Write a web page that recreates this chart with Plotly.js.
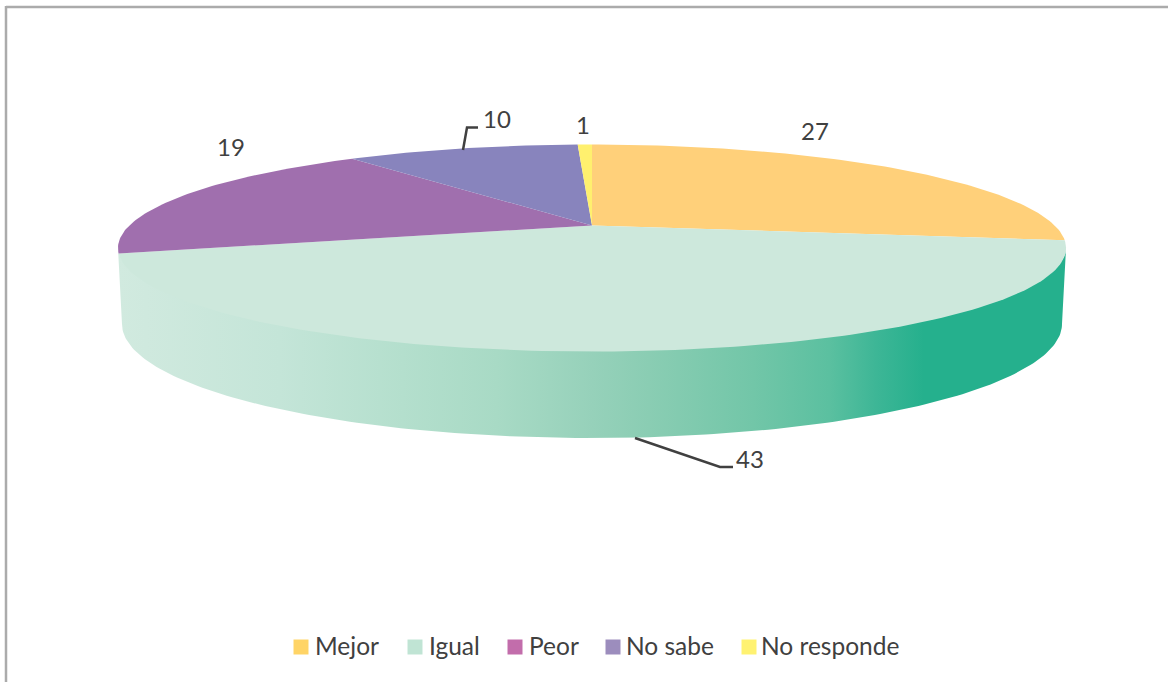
<!DOCTYPE html>
<html>
<head>
<meta charset="utf-8">
<script src="https://cdn.plot.ly/plotly-3.0.1.min.js"></script>
<style>html,body{margin:0;padding:0;background:#fff;overflow:hidden}#chart{width:1168px;height:682px}</style>
</head>
<body>
<div id="chart"></div>
<script>
// Data
const categories = ['Mejor', 'Igual', 'Peor', 'No sabe', 'No responde'];
const values = [27.3, 43.4, 18.9, 9.8, 0.6];
// Colours
const topColors = ['#ffd07a', '#cde8dc', '#a06fae', '#8884bd', '#fff06e'];
const legendColors = ['#ffd466', '#c0e4d4', '#c26dab', '#9c8dbd', '#fff271'];
const wallStops = [[0, '#d1eadf'], [0.03, '#cfe9de'], [0.17, '#c4e5d8'], [0.3, '#b4dfcd'], [0.4, '#a8dac5'], [0.5, '#96d1ba'], [0.56, '#8acdb3'], [0.67, '#72c6a8'], [0.75, '#5bc0a0'], [0.8, '#3db696'], [0.85, '#25b08d'], [1, '#25b08d']];
// Label positions in page pixels
const labelX = [815, 750, 231, 497, 583];
const labelY = [134, 462, 150, 122, 128];
// Legend positions in page pixels
const legendSwatchX = [301, 415, 515, 613, 749];
const legendTextX = [315, 429, 529, 626, 761];
const legendSwatchY = [647, 647, 647, 647, 647];
const legendTextY = [649, 649, 649, 649, 649];
// Leader lines
const leaderX = [[463, 467, 478], [635, 720, 733]];
const leaderY = [[150, 127.5, 127.5], [438, 467, 467]];

// 3-D pie projection
const apex = {x: 592, y: 225.5};
const persp = {b: 462.7, a: 98.6, k: 0.2174};
function project(deg) {
  const t = deg * Math.PI / 180, u = Math.sin(t), v = Math.cos(t), w = 1 + persp.k * v;
  return [apex.x + persp.b * u / w, apex.y - persp.a * v / w];
}
const traces = [];
// Side wall (upper edge tucked under the top surface)
const wallX = [], wallY = [];
for (let d = 0; d <= 180; d += 1) {
  const t = d * Math.PI / 180;
  wallX.push(592 + 474 * Math.cos(t)); wallY.push(248.5 + 90 * Math.sin(t));
}
for (let d = 180; d >= 0; d -= 1) {
  const t = d * Math.PI / 180;
  wallX.push(592 + 470 * Math.cos(t)); wallY.push(324 + 114 * Math.sin(t));
}
traces.push({x: wallX, y: wallY, mode: 'lines', fill: 'toself', line: {width: 0},
  fillgradient: {type: 'horizontal', colorscale: wallStops},
  hoverinfo: 'skip', showlegend: false});
// Top surface
const total = values.reduce((a, b) => a + b, 0);
let cum = 0;
values.forEach((val, i) => {
  const start = cum / total * 360, end = (cum + val) / total * 360;
  const xs = [apex.x], ys = [apex.y];
  const n = Math.max(2, Math.ceil(end - start));
  for (let j = 0; j <= n; j++) {
    const p = project(start + (end - start) * j / n);
    xs.push(p[0]); ys.push(p[1]);
  }
  xs.push(apex.x); ys.push(apex.y);
  traces.push({x: xs, y: ys, mode: 'lines', fill: 'toself', fillcolor: topColors[i],
    line: {width: 0}, name: categories[i], hoverinfo: 'name', showlegend: false});
  cum += val;
});
// Leader lines
leaderX.forEach((lx, i) => traces.push({x: lx, y: leaderY[i], mode: 'lines',
  line: {color: '#404040', width: 2.5}, hoverinfo: 'skip', showlegend: false}));
// Value labels
traces.push({x: labelX, y: labelY, mode: 'text', text: values.map(v => String(Math.round(v))),
  textposition: 'middle center', textfont: {family: 'Lato, Carlito, sans-serif', size: 24, color: '#404040'},
  hoverinfo: 'skip', showlegend: false});
// Legend swatches and names
traces.push({x: legendSwatchX, y: legendSwatchY, mode: 'markers',
  marker: {symbol: 'square', size: 15, color: legendColors, line: {width: 0}},
  hoverinfo: 'skip', showlegend: false});
traces.push({x: legendTextX, y: legendTextY, mode: 'text', text: categories,
  textposition: 'middle right', textfont: {family: 'Lato, Carlito, sans-serif', size: 24.5, color: '#404040'},
  hoverinfo: 'skip', showlegend: false});

const layout = {
  width: 1168, height: 682,
  margin: {l: 0, r: 0, t: 0, b: 0},
  paper_bgcolor: '#ffffff', plot_bgcolor: '#ffffff',
  xaxis: {range: [0, 1168], visible: false, fixedrange: true},
  yaxis: {range: [682, 0], visible: false, fixedrange: true},
  font: {family: 'Lato, Carlito, sans-serif', color: '#404040'},
  showlegend: false,
  shapes: [
    {type: 'line', xref: 'paper', yref: 'paper', x0: 6 / 1168, x1: 1, y0: 1 - 7 / 682, y1: 1 - 7 / 682, line: {color: '#ababab', width: 2.5}},
    {type: 'line', xref: 'paper', yref: 'paper', x0: 6 / 1168, x1: 6 / 1168, y0: 0, y1: 1 - 6 / 682, line: {color: '#ababab', width: 2.5}}
  ]
};
Plotly.newPlot('chart', traces, layout, {displayModeBar: false});
</script>
</body>
</html>
